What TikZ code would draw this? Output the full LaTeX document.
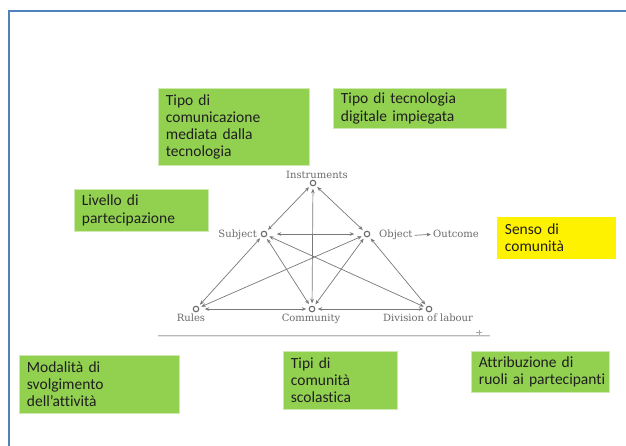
\documentclass[tikz,border=0pt]{standalone}
\usepackage{fontspec}
\setmainfont{Carlito}[Ligatures={NoCommon,NoContextual}]
\newfontfamily\labfont{DejaVu Serif}
\usetikzlibrary{arrows.meta}
\definecolor{boxgreen}{RGB}{146,208,80}
\definecolor{frameblue}{RGB}{79,129,189}
\definecolor{atgray}{RGB}{120,120,120}
\definecolor{labgray}{RGB}{105,105,105}
\begin{document}
\begin{tikzpicture}[x=1pt,y=-1pt,
  gbox/.style={fill=boxgreen, draw=boxgreen!45!white, line width=0.8pt, anchor=north west,
    inner xsep=7.5pt, inner ysep=0pt, align=left, font=\fontsize{15.5}{17.2}\selectfont, text=black!88},
  ybox/.style={gbox, fill=yellow, draw=yellow},
  lab/.style={font=\labfont\fontsize{10}{12}\selectfont, text=labgray, inner sep=0pt},
  pt/.style={circle, draw=labgray, line width=1.1pt, inner sep=0pt, minimum size=5.5pt, outer sep=0pt},
  ar/.style={atgray, line width=0.7pt, {Stealth[length=4.5pt,width=3.6pt]}-{Stealth[length=4.5pt,width=3.6pt]},
    shorten <=3pt, shorten >=3pt}]
\useasboundingbox (0,0) rectangle (626,445);
% frame
\draw[frameblue, line width=1.5pt] (9,446) -- (9,11) -- (627,11);
% boxes
\node[gbox, text width=136pt, minimum height=77pt] (b1) at (158,88)
  {Tipo di\\comunicazione\\mediata dalla\\tecnologia};
\node[gbox, text width=158pt, minimum height=40pt] (b2) at (333,88)
  {Tipo di tecnologia\\digitale impiegata};
\node[gbox, text width=119pt, minimum height=42pt] (b3) at (74,189)
  {Livello di\\partecipazione};
\node[ybox, text width=103pt, minimum height=41pt] (b4) at (497,217)
  {Senso di\\comunità};
\node[gbox, text width=145pt, minimum height=58pt] (b5) at (19,355)
  {Modalità di\\svolgimento\\dell’attività};
\node[gbox, text width=99pt, minimum height=58pt] (b6) at (283,351)
  {Tipi di\\comunità\\scolastica};
\node[gbox, text width=130pt, inner xsep=4pt, minimum height=41pt] (b7) at (471,351)
  {\hspace*{3.5pt}Attribuzione di\\\hspace*{3.5pt}ruoli ai partecipanti};
% triangle points
\node[pt] (ins) at (313,183) {};
\node[pt] (sub) at (264,234) {};
\node[pt] (obj) at (367,234) {};
\node[pt] (rul) at (196,309) {};
\node[pt] (com) at (312,309) {};
\node[pt] (div) at (429,309) {};
% labels
\node[lab] (insl) at (317,175) {Instruments};
\node[lab, anchor=base east] (subl) at (257,237.5) {Subject};
\node[lab, anchor=base west] (objl) at (379,237.5) {Object};
\node[lab, anchor=base west] (outl) at (433,237.5) {Outcome};
\node[lab, anchor=base] (rull) at (191,321.5) {Rules};
\node[lab, anchor=base] (coml) at (311,321.5) {Community};
\node[lab, anchor=base west] (divl) at (383,321.5) {Division of labour};
\draw[atgray, line width=0.7pt, -{Stealth[length=4.5pt,width=3.6pt]}]
  ([xshift=2pt,yshift=-0.5pt]objl.east) -- ([xshift=-2pt,yshift=-0.5pt]outl.west);
% connectors
\draw[ar] (ins) -- (sub);
\draw[ar] (ins) -- (obj);
\draw[ar] (ins) -- (com);
\draw[ar, shorten <=10pt, shorten >=10pt] (sub) -- (obj);
\draw[ar] (sub) -- (rul);
\draw[ar] (sub) -- (com);
\draw[ar] (sub) -- (div);
\draw[ar] (obj) -- (rul);
\draw[ar] (obj) -- (com);
\draw[ar] (obj) -- (div);
\draw[ar, shorten <=6pt] (rul) -- (com);
\draw[ar] (com) -- (div);
% base line
\draw[gray!20, line width=1pt] (158,336.8) -- (490,336.8);
\draw[gray!55, line width=1.1pt] (158,335.3) -- (490,335.3);
\draw[gray!70, line width=0.8pt] (476,332.3) -- (482,332.3) (479,329.8) -- (479,334.6);
\end{tikzpicture}
\end{document}
